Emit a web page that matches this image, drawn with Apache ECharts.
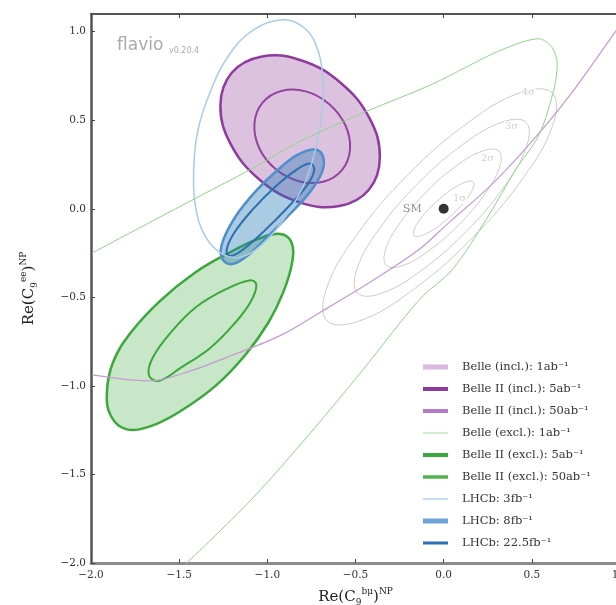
<!DOCTYPE html>
<html>
<head>
<meta charset="utf-8">
<script src="https://cdn.jsdelivr.net/npm/echarts@6/dist/echarts.min.js"></script>
<style>
  html, body { margin: 0; padding: 0; background: #fff; }
  #chart { width: 616px; height: 605px; }
</style>
</head>
<body>
<div id="chart"></div>
<script>
// contour points, [Re C9 mu, Re C9 e]
const belleIncl1ab = [[-1.994, -0.938], [-1.831, -0.960], [-1.661, -0.972], [-1.435, -0.915], [-1.192, -0.824],
  [-0.927, -0.716], [-0.701, -0.585], [-0.418, -0.415], [-0.136, -0.227], [0.034, -0.074], [0.260, 0.125],
  [0.486, 0.364], [0.712, 0.636], [0.966, 0.989], [1.06, 1.12]];
const belle2Incl5ab = [[-0.424, 0.108], [-0.591, 0.016], [-0.817, 0.036], [-1.042, 0.163], [-1.207, 0.364],
  [-1.266, 0.585], [-1.203, 0.767], [-1.036, 0.859], [-0.810, 0.839], [-0.585, 0.712], [-0.420, 0.511],
  [-0.362, 0.290]];
const belle2Incl50ab = [[-0.577, 0.219], [-0.684, 0.153], [-0.822, 0.156], [-0.955, 0.226], [-1.047, 0.345],
  [-1.073, 0.482], [-1.027, 0.599], [-0.921, 0.665], [-0.782, 0.663], [-0.650, 0.592], [-0.558, 0.473],
  [-0.531, 0.336]];
const belleExcl1ab = [[-1.994, -0.250], [-1.661, -0.074], [-1.379, 0.074], [-1.096, 0.222], [-0.814, 0.381],
  [-0.435, 0.551], [-0.062, 0.705], [0.316, 0.892], [0.542, 0.960], [0.616, 0.909], [0.644, 0.818],
  [0.627, 0.682], [0.542, 0.420], [0.412, 0.227], [0.243, -0.057], [0.051, -0.341], [-0.136, -0.511],
  [-0.458, -0.909], [-0.757, -1.267], [-1.096, -1.648], [-1.475, -2.017]];
const belle2Excl5ab = [[-0.927, -0.142], [-0.864, -0.188], [-0.859, -0.301], [-0.910, -0.472], [-0.994, -0.642],
  [-1.124, -0.824], [-1.294, -1.000], [-1.492, -1.142], [-1.661, -1.227], [-1.802, -1.244], [-1.887, -1.170],
  [-1.910, -1.040], [-1.876, -0.869], [-1.774, -0.699], [-1.605, -0.517], [-1.407, -0.358], [-1.209, -0.244],
  [-1.051, -0.170]];
const belle2Excl50ab = [[-1.096, -0.403], [-1.062, -0.432], [-1.096, -0.528], [-1.181, -0.642], [-1.322, -0.784],
  [-1.492, -0.898], [-1.616, -0.972], [-1.672, -0.938], [-1.650, -0.841], [-1.548, -0.699], [-1.407, -0.557],
  [-1.237, -0.455]];
const lhcb3fb = [[-0.910, 1.068], [-0.785, 1.017], [-0.712, 0.892], [-0.684, 0.722], [-0.689, 0.551],
  [-0.723, 0.352], [-0.785, 0.153], [-0.898, -0.045], [-1.028, -0.199], [-1.153, -0.273], [-1.254, -0.256],
  [-1.350, -0.159], [-1.407, 0.011], [-1.418, 0.210], [-1.395, 0.438], [-1.322, 0.665], [-1.220, 0.864],
  [-1.085, 1.006]];
const lhcb8fb = [[-0.729, 0.335], [-0.684, 0.295], [-0.689, 0.210], [-0.757, 0.097], [-0.870, -0.028],
  [-1.011, -0.170], [-1.124, -0.273], [-1.209, -0.313], [-1.260, -0.273], [-1.254, -0.188], [-1.181, -0.045],
  [-1.068, 0.097], [-0.938, 0.222], [-0.825, 0.307]];
const lhcb22fb = [[-0.757, 0.256], [-0.734, 0.222], [-0.768, 0.142], [-0.870, 0.023], [-1.011, -0.119],
  [-1.141, -0.233], [-1.209, -0.267], [-1.232, -0.239], [-1.192, -0.142], [-1.085, -0.006], [-0.955, 0.125],
  [-0.825, 0.227]];

// SM expectation contours
const sm1sigma = [[0.169, 0.152], [0.146, 0.077], [0.038, -0.042], [-0.092, -0.137], [-0.169, -0.152],
  [-0.146, -0.077], [-0.038, 0.042], [0.092, 0.137]];
const sm2sigma = [[0.314, 0.325], [0.317, 0.235], [0.234, 0.084], [0.086, -0.090], [-0.086, -0.238],
  [-0.236, -0.322], [-0.326, -0.319], [-0.329, -0.229], [-0.246, -0.078], [-0.098, 0.096], [0.074, 0.244],
  [0.225, 0.328]];
const sm3sigma = [[0.468, 0.488], [0.471, 0.355], [0.346, 0.129], [0.125, -0.130], [-0.133, -0.353],
  [-0.358, -0.479], [-0.490, -0.476], [-0.493, -0.343], [-0.368, -0.117], [-0.147, 0.142], [0.111, 0.365],
  [0.336, 0.491]];
const sm4sigma = [[0.616, 0.654], [0.620, 0.477], [0.452, 0.176], [0.157, -0.170], [-0.187, -0.467],
  [-0.486, -0.636], [-0.662, -0.632], [-0.666, -0.455], [-0.498, -0.154], [-0.203, 0.192], [0.141, 0.489],
  [0.440, 0.658]];
const sigmaLabels = [[0.09, 0.057, '1σ'], [0.249, 0.284, '2σ'], [0.384, 0.466, '3σ'], [0.48, 0.66, '4σ']];
const smPoint = [[0, 0]];

const legendNames = ['Belle (incl.): 1ab⁻¹', 'Belle II (incl.): 5ab⁻¹', 'Belle II (incl.): 50ab⁻¹',
  'Belle (excl.): 1ab⁻¹', 'Belle II (excl.): 5ab⁻¹', 'Belle II (excl.): 50ab⁻¹',
  'LHCb: 3fb⁻¹', 'LHCb: 8fb⁻¹', 'LHCb: 22.5fb⁻¹'];

const chart = echarts.init(document.getElementById('chart'));

function closedContour(name, pts, stroke, width, fill, z) {
  return {
    type: 'custom', name: name, data: pts, clip: true, silent: true, z: z,
    encode: { x: 0, y: 1 },
    renderItem: function (params, api) {
      if (params.dataIndex !== 0) return;
      return {
        type: 'polygon',
        shape: { points: pts.map(p => api.coord(p)), smooth: 0.4 },
        style: { fill: fill || 'none', stroke: stroke, lineWidth: width }
      };
    }
  };
}

function openContour(name, pts, color, width, z) {
  return {
    type: 'line', name: name, data: pts, smooth: 0.3, showSymbol: false, clip: true, silent: true, z: z,
    lineStyle: { color: color, width: width }, itemStyle: { color: color }
  };
}

const tickFmt = v => (v < 0 ? '\u2212' + Math.abs(v).toFixed(1) : v.toFixed(1));
const serif = 'DejaVu Serif';

const bar = h => 'path://M0,0h25v' + h + 'h-25z';

const nameRich = {
  m: { fontFamily: serif, fontSize: 15, color: '#222', lineHeight: 20 },
  sub: { fontFamily: serif, fontSize: 9, color: '#222', verticalAlign: 'bottom' },
  sup: { fontFamily: serif, fontSize: 9, color: '#222', verticalAlign: 'top' }
};

const option = {
  animation: false,
  backgroundColor: '#fff',
  grid: { left: 91, top: 14, width: 529, height: 549, outerBoundsMode: 'none' },
  xAxis: [{
    type: 'value', min: -2, max: 1, interval: 0.5,
    name: '{m|Re(C}{sub|9}{sup|bμ}{m|)}{sup|NP}', nameLocation: 'middle', nameGap: 24,
    nameTextStyle: { rich: nameRich },
    axisLine: { onZero: false, lineStyle: { color: '#8c8c8c', width: 3 } },
    axisTick: { inside: true, length: 4, lineStyle: { color: '#444' } },
    axisLabel: { formatter: tickFmt, fontFamily: serif, fontSize: 10.5, color: '#333', margin: 7 },
    splitLine: { show: false }
  }, {
    type: 'value', position: 'top', min: -2, max: 1, interval: 0.5,
    axisLine: { onZero: false, lineStyle: { color: '#555', width: 2 } },
    axisTick: { inside: true, length: 4, lineStyle: { color: '#444' } },
    axisLabel: { show: false }, splitLine: { show: false }
  }],
  yAxis: [{
    type: 'value', min: -2, max: 1.1, interval: 0.5,
    name: '{m|Re(C}{sub|9}{sup|ee}{m|)}{sup|NP}', nameLocation: 'middle', nameGap: 52, nameRotate: 90,
    nameTextStyle: { rich: nameRich },
    axisLine: { onZero: false, lineStyle: { color: '#555', width: 2.5 } },
    axisTick: { inside: true, length: 4, lineStyle: { color: '#444' } },
    axisLabel: { formatter: tickFmt, fontFamily: serif, fontSize: 10.5, color: '#333', margin: 5, showMaxLabel: false },
    splitLine: { show: false }
  }, {
    type: 'value', position: 'right', min: -2, max: 1.1, interval: 0.5,
    axisLine: { onZero: false, lineStyle: { color: '#555', width: 2 } },
    axisTick: { inside: true, length: 4, lineStyle: { color: '#444' } },
    axisLabel: { show: false }, splitLine: { show: false }
  }],
  legend: {
    left: 418, top: 356, orient: 'vertical', itemWidth: 25, itemHeight: 8, itemGap: 10,
    textStyle: { fontFamily: serif, fontSize: 11.5, color: '#333', padding: [0, 0, 0, 9] },
    data: [
      { name: legendNames[0], icon: bar(5), itemStyle: { color: '#dab9e2' } },
      { name: legendNames[1], icon: bar(4), itemStyle: { color: '#8e3a9e' } },
      { name: legendNames[2], icon: bar(4), itemStyle: { color: '#b77bc6' } },
      { name: legendNames[3], icon: bar(1), itemStyle: { color: '#a4dca0' } },
      { name: legendNames[4], icon: bar(4), itemStyle: { color: '#3aa83a' } },
      { name: legendNames[5], icon: bar(3.5), itemStyle: { color: '#52b552' } },
      { name: legendNames[6], icon: bar(1.5), itemStyle: { color: '#b3d2ec' } },
      { name: legendNames[7], icon: bar(5), itemStyle: { color: '#6ea3d6' } },
      { name: legendNames[8], icon: bar(3), itemStyle: { color: '#2d6fb2' } }
    ]
  },
  graphic: [
    { type: 'text', left: 117, top: 37, style: { text: 'flavio', fontFamily: 'DejaVu Sans', fontSize: 17, fill: '#aaaaaa' } },
    { type: 'text', left: 169, top: 47, style: { text: 'v0.20.4', fontFamily: 'DejaVu Sans', fontSize: 8, fill: '#aaaaaa' } }
  ],
  series: [
    closedContour('sm4', sm4sigma, '#cccccc', 1, null, 1),
    closedContour('sm3', sm3sigma, '#cccccc', 1, null, 1),
    closedContour('sm2', sm2sigma, '#cccccc', 1, null, 1),
    closedContour('sm1', sm1sigma, '#cccccc', 1, null, 1),
    {
      type: 'scatter', data: sigmaLabels, symbolSize: 0, silent: true, z: 2,
      label: {
        show: true, position: 'inside', formatter: p => p.data[2],
        fontFamily: serif, fontSize: 10, color: '#c4c4c4', backgroundColor: '#fff', padding: [0, 1]
      }
    },
    closedContour(legendNames[1], belle2Incl5ab, '#8e3a9e', 2.5, 'rgba(148,64,160,0.32)', 3),
    closedContour(legendNames[2], belle2Incl50ab, '#94449f', 2, null, 3),
    closedContour(legendNames[4], belle2Excl5ab, '#3aa83a', 2.5, 'rgba(44,160,44,0.26)', 4),
    closedContour(legendNames[5], belle2Excl50ab, '#3aa83a', 2, null, 4),
    closedContour(legendNames[7], lhcb8fb, '#4f8fcc', 2.5, 'rgba(31,119,180,0.38)', 5),
    closedContour(legendNames[8], lhcb22fb, '#2c6fb2', 2, null, 5),
    closedContour(legendNames[6], lhcb3fb, '#a9cbe8', 1.5, null, 6),
    openContour(legendNames[3], belleExcl1ab, '#8fd38a', 1, 6),
    openContour(legendNames[0], belleIncl1ab, '#c69ad3', 1.2, 6),
    {
      type: 'scatter', data: smPoint, symbolSize: 10, silent: true, z: 7,
      itemStyle: { color: '#000' },
      label: { show: true, position: 'left', distance: 17, formatter: 'SM', fontFamily: serif, fontSize: 11, color: '#777' }
    }
  ]
};

chart.setOption(option);
</script>
</body>
</html>
